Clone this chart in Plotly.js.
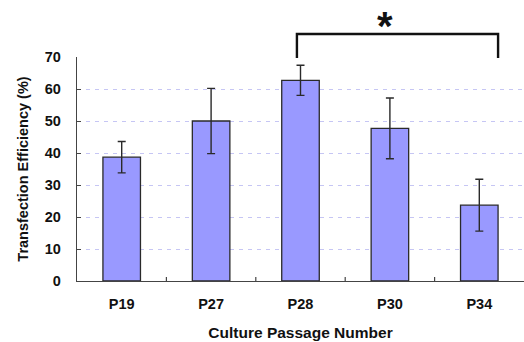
<!DOCTYPE html>
<html><head><meta charset="utf-8">
<script src="https://cdn.plot.ly/plotly-3.0.1.min.js"></script>
<style>html,body{margin:0;padding:0;background:#fff}#chart{width:524px;height:342px}</style>
</head><body><div id="chart"></div>
<script>
const categories = ["P19", "P27", "P28", "P30", "P34"];
const efficiency = [38.7, 50.0, 62.7, 47.7, 23.7];
const errorVals = [4.9, 10.2, 4.7, 9.5, 8.1];
const yTicks = [0, 10, 20, 30, 40, 50, 60, 70];
const sigLabel = "*";

const font = "Liberation Sans, Arial, sans-serif";
const trace = {
  type: "bar", x: categories, y: efficiency,
  width: 0.42,
  marker: {color: "#9999FF", line: {color: "#2a2a2a", width: 1.3}},
  error_y: {type: "data", array: errorVals, visible: true, color: "#2a2a2a", thickness: 1.4, width: 4},
  hoverinfo: "none"
};
const layout = {
  width: 524, height: 342,
  margin: {l: 77, r: 0, t: 57, b: 61},
  paper_bgcolor: "#fff", plot_bgcolor: "#fff",
  showlegend: false,
  xaxis: {
    type: "category", range: [-0.5, 4.5],
    showline: true, linecolor: "#444", linewidth: 1.2,
    showgrid: false, ticks: "",
    tickfont: {family: font, size: 14.5, color: "#111", weight: "bold"},
    ticklabelstandoff: 9,
    title: {text: "Culture Passage Number", font: {family: font, size: 15.5, color: "#111", weight: "bold"}, standoff: 16}
  },
  yaxis: {
    range: [0, 70], tickvals: yTicks, ticktext: yTicks.map(String),
    showline: true, linecolor: "#444", linewidth: 1.2,
    ticks: "inside", ticklen: 4, tickcolor: "#444",
    showgrid: true, gridcolor: "#c6c6f4", griddash: "4px,5px", gridwidth: 1,
    zeroline: false,
    tickfont: {family: font, size: 14.5, color: "#111", weight: "bold"},
    ticklabelstandoff: 12,
    title: {text: "Transfection Efficiency (%)", font: {family: font, size: 14.5, color: "#111", weight: "bold"}, standoff: 12}
  },
  shapes: [
    {type: "path", xref: "paper", yref: "paper",
     path: "M 0.492 0.9955 L 0.492 1.1027 L 0.942 1.1027 L 0.942 0.9955",
     line: {color: "#111", width: 2.4}}
  ],
  annotations: [
    {xref: "paper", yref: "paper", x: 0.711, y: 1.03, yanchor: "bottom", text: sigLabel,
     showarrow: false, font: {family: font, size: 40, color: "#111", weight: "bold"}}
  ]
};
// inside x ticks at category boundaries
layout.shapes.push(...[0.5, 1.5, 2.5, 3.5].map(v => ({type: "line", xref: "x", yref: "paper", x0: v, x1: v, y0: 0, y1: 0.018, line: {color: "#444", width: 1.2}})));
Plotly.newPlot("chart", [trace], layout, {staticPlot: true});
</script></body></html>
